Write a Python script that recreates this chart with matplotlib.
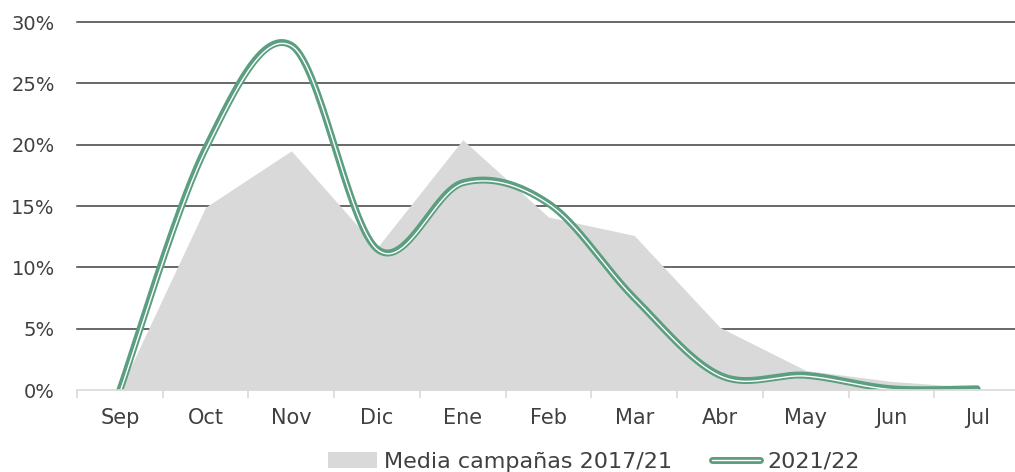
import numpy as np
import matplotlib
matplotlib.use("Agg")
import matplotlib.pyplot as plt
from matplotlib.patches import Patch
from matplotlib.lines import Line2D
from matplotlib.legend_handler import HandlerTuple
import matplotlib.patheffects as pe

# ---- data ----
months = ["Sep", "Oct", "Nov", "Dic", "Ene", "Feb", "Mar", "Abr", "May", "Jun", "Jul"]
media_2017_21 = [0.0, 14.9, 19.5, 11.6, 20.4, 14.1, 12.6, 5.1, 1.6, 0.7, 0.2]
camp_2021_22 = [0.0, 19.7, 28.1, 11.5, 16.9, 15.2, 7.5, 1.2, 1.2, 0.1, 0.1]
y_ticks = [0, 5, 10, 15, 20, 25, 30]
y_labels = ["0%", "5%", "10%", "15%", "20%", "25%", "30%"]
label_area = "Media campañas 2017/21"
label_line = "2021/22"

GREEN = "#5B9E80"
GRAY = "#D9D9D9"
TXT = "#404040"

plt.rcParams['font.family'] = ['DejaVu Sans']


def smooth(xs, ys, n=60):
    xs = np.asarray(xs, float)
    ys = np.asarray(ys, float)
    P = np.column_stack([xs, ys])
    P = np.vstack([P[0], P, P[-1]])
    out = []
    for i in range(1, len(P) - 2):
        p0, p1, p2, p3 = P[i - 1], P[i], P[i + 1], P[i + 2]
        b1 = p1 + (p2 - p0) / 6.0
        b2 = p2 - (p3 - p1) / 6.0
        t = np.linspace(0, 1, n)[:, None]
        seg = ((1 - t) ** 3) * p1 + 3 * ((1 - t) ** 2) * t * b1 + 3 * (1 - t) * t ** 2 * b2 + t ** 3 * p2
        if i > 1:
            seg = seg[1:]
        out.append(seg)
    out = np.vstack(out)
    return out[:, 0], out[:, 1]


fig = plt.figure(figsize=(10.15, 4.72), dpi=100)
ax = fig.add_axes([77 / 1015, 82 / 472, 943 / 1015, 368 / 472])

x = np.arange(len(months)) + 0.5

# gridlines
for yt in y_ticks[1:]:
    ax.axhline(yt, color=TXT, lw=1.1, zorder=0, clip_on=False)

ax.fill_between(x, media_2017_21, 0, color=GRAY, lw=0, zorder=2)

sx, sy = smooth(x, camp_2021_22)
ax.plot(sx, sy, color=GREEN, lw=5.0, solid_capstyle='round', zorder=3)
wl, = ax.plot(sx, sy, color="white", lw=1.0, solid_capstyle='round', zorder=4)
wl.set_path_effects([pe.Stroke(offset=(0.4, -0.6), linewidth=1.0, foreground="white")])

ax.set_xlim(0, len(months))
ax.set_ylim(0, 30)

for s in ["top", "right", "left"]:
    ax.spines[s].set_visible(False)
ax.spines["bottom"].set_color(GRAY)
ax.spines["bottom"].set_linewidth(1.2)
ax.spines["bottom"].set_zorder(5)

ax.set_xticks(x)
ax.set_xticklabels(months)
ax.set_xticks(np.arange(len(months) + 1), minor=True)
ax.tick_params(axis="x", which="major", length=0, pad=13, labelsize=15, labelcolor=TXT)
ax.tick_params(axis="x", which="minor", length=5.5, width=1.2, color=GRAY, direction="out")

ax.set_yticks(y_ticks)
ax.set_yticklabels(y_labels)
ax.tick_params(axis="y", length=0, pad=16, labelsize=14, labelcolor=TXT)

h_area = Patch(facecolor=GRAY, edgecolor="none")
h_line = (Line2D([], [], color=GREEN, lw=5.0, solid_capstyle='round'),
          Line2D([], [], color="white", lw=1.0, solid_capstyle='round'))
fig.legend([h_area, h_line], [label_area, label_line],
           handler_map={tuple: HandlerTuple(ndivide=1)},
           loc="center", bbox_to_anchor=(0.585, 0.022), ncol=2, frameon=False,
           fontsize=16, labelcolor=TXT, handlelength=2.2, handletextpad=0.3,
           columnspacing=1.8, borderpad=0)

fig.savefig("out.png", dpi=100)
